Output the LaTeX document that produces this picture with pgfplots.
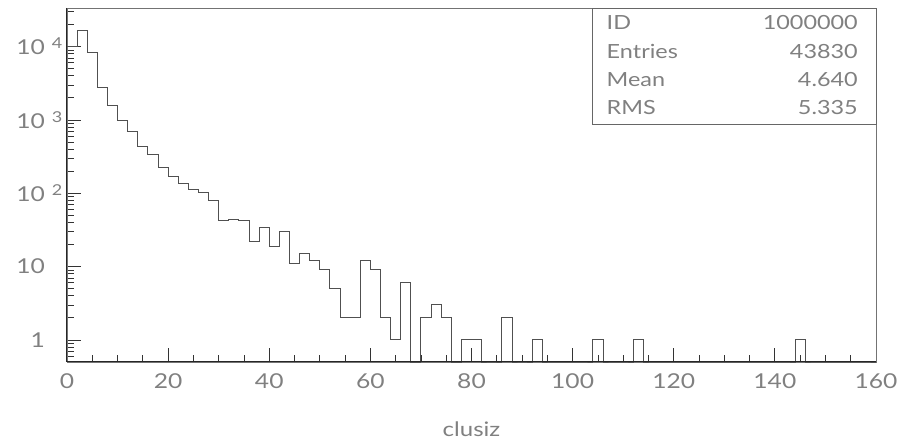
\documentclass[border=0pt]{standalone}
\usepackage{pgfplots}
\usepackage{pgfplotstable}
\pgfplotsset{compat=1.18}
\usepackage{fontspec}
\setmainfont{Lato}[FakeStretch=1.2]
\definecolor{txt}{HTML}{808080}
\definecolor{hist}{HTML}{505050}
\pgfplotstableread{
x y
0 10000
2 16600
4 8400
6 2780
8 1600
10 970
12 690
14 436
16 339
18 223
20 171
22 136
24 113
26 101
28 80
30 42
32 44
34 42
36 22
38 34
40 19
42 30
44 11
46 15
48 12
50 9
52 5
54 2
56 2
58 12
60 9
62 2
64 1
66 6
68 0.5
70 2
72 3
74 2
76 0.5
78 1
80 1
82 0.5
84 0.5
86 2
88 0.5
90 0.5
92 1
94 0.5
96 0.5
98 0.5
100 0.5
102 0.5
104 1
106 0.5
108 0.5
110 0.5
112 1
114 0.5
116 0.5
118 0.5
120 0.5
122 0.5
124 0.5
126 0.5
128 0.5
130 0.5
132 0.5
134 0.5
136 0.5
138 0.5
140 0.5
142 0.5
144 1
146 0.5
148 0.5
150 0.5
152 0.5
154 0.5
156 0.5
158 0.5
160 0.5
}\hist
\newcommand{\supx}[1]{\rlap{\hspace{7pt}\raisebox{6pt}{\fontsize{15}{15}\selectfont #1}}}
\begin{document}
\begin{tikzpicture}
\begin{axis}[
  scale only axis, width=809pt, height=354pt,
  ymode=log, xmin=0, xmax=160, ymin=0.5, ymax=33600,
  clip=false,
  axis line style={draw=black!55, line width=0.8pt},
  tick pos=left, tick align=inside,
  xtick={0,20,...,160}, minor xtick={5,10,15,25,30,35,45,50,55,65,70,75,85,90,95,105,110,115,125,130,135,145,150,155},
  ytick={1,10,100,1000,10000},
  yticklabels={1,10,10\supx{2},10\supx{3},10\supx{4}},
  minor ytick={0.6,0.7,0.8,0.9,2,3,4,5,6,7,8,9,20,30,40,50,60,70,80,90,200,300,400,500,600,700,800,900,2000,3000,4000,5000,6000,7000,8000,9000,20000,30000},
  major tick length=14pt, minor tick length=7pt,
  every tick/.style={draw=black!80, line width=0.8pt},
  tick label style={font=\fontsize{20.5}{20.5}\selectfont, text=txt},
  /pgf/number format/assume math mode=true,
  xticklabel style={anchor=north, inner sep=0pt},
  xticklabel shift=11pt,
  yticklabel style={anchor=east, inner sep=0pt},
  yticklabel shift=22pt,
]
\addplot[const plot mark left, draw=hist, line width=0.9pt, mark=none] table[x=x,y=y] {\hist};
\draw[black!85, line width=1pt] (rel axis cs:0,1) -- (rel axis cs:0,0) -- (rel axis cs:1,0);
\draw[black!60, line width=0.8pt] (rel axis cs:0.650,1) rectangle (rel axis cs:1,0.672);
\begin{scope}[every node/.style={font=\fontsize{19.5}{19.5}\selectfont, text=txt, inner sep=0pt}]
\node[anchor=base west] at ([xshift=13.7pt,yshift=-21.3pt]rel axis cs:0.650,1) {ID};
\node[anchor=base west] at ([xshift=13.7pt,yshift=-50.3pt]rel axis cs:0.650,1) {Entries};
\node[anchor=base west] at ([xshift=13.7pt,yshift=-78.7pt]rel axis cs:0.650,1) {Mean};
\node[anchor=base west] at ([xshift=13.7pt,yshift=-107pt]rel axis cs:0.650,1) {RMS};
\node[anchor=base east] at ([xshift=-18pt,yshift=-21.3pt]rel axis cs:1,1) {1000000};
\node[anchor=base east] at ([xshift=-18pt,yshift=-50.3pt]rel axis cs:1,1) {43830};
\node[anchor=base east] at ([xshift=-18pt,yshift=-78.7pt]rel axis cs:1,1) {4.640};
\node[anchor=base east] at ([xshift=-18pt,yshift=-107pt]rel axis cs:1,1) {5.335};
\end{scope}
\node[font=\fontsize{20}{20}\selectfont, text=txt, inner sep=0pt, anchor=base] at ([yshift=-75pt]axis description cs:0.5,0) {clusiz};
\end{axis}
\pgfresetboundingbox
\path (current axis.south west) ++(-67pt,-79pt) rectangle ++(898pt,441pt);
\end{tikzpicture}
\end{document}
